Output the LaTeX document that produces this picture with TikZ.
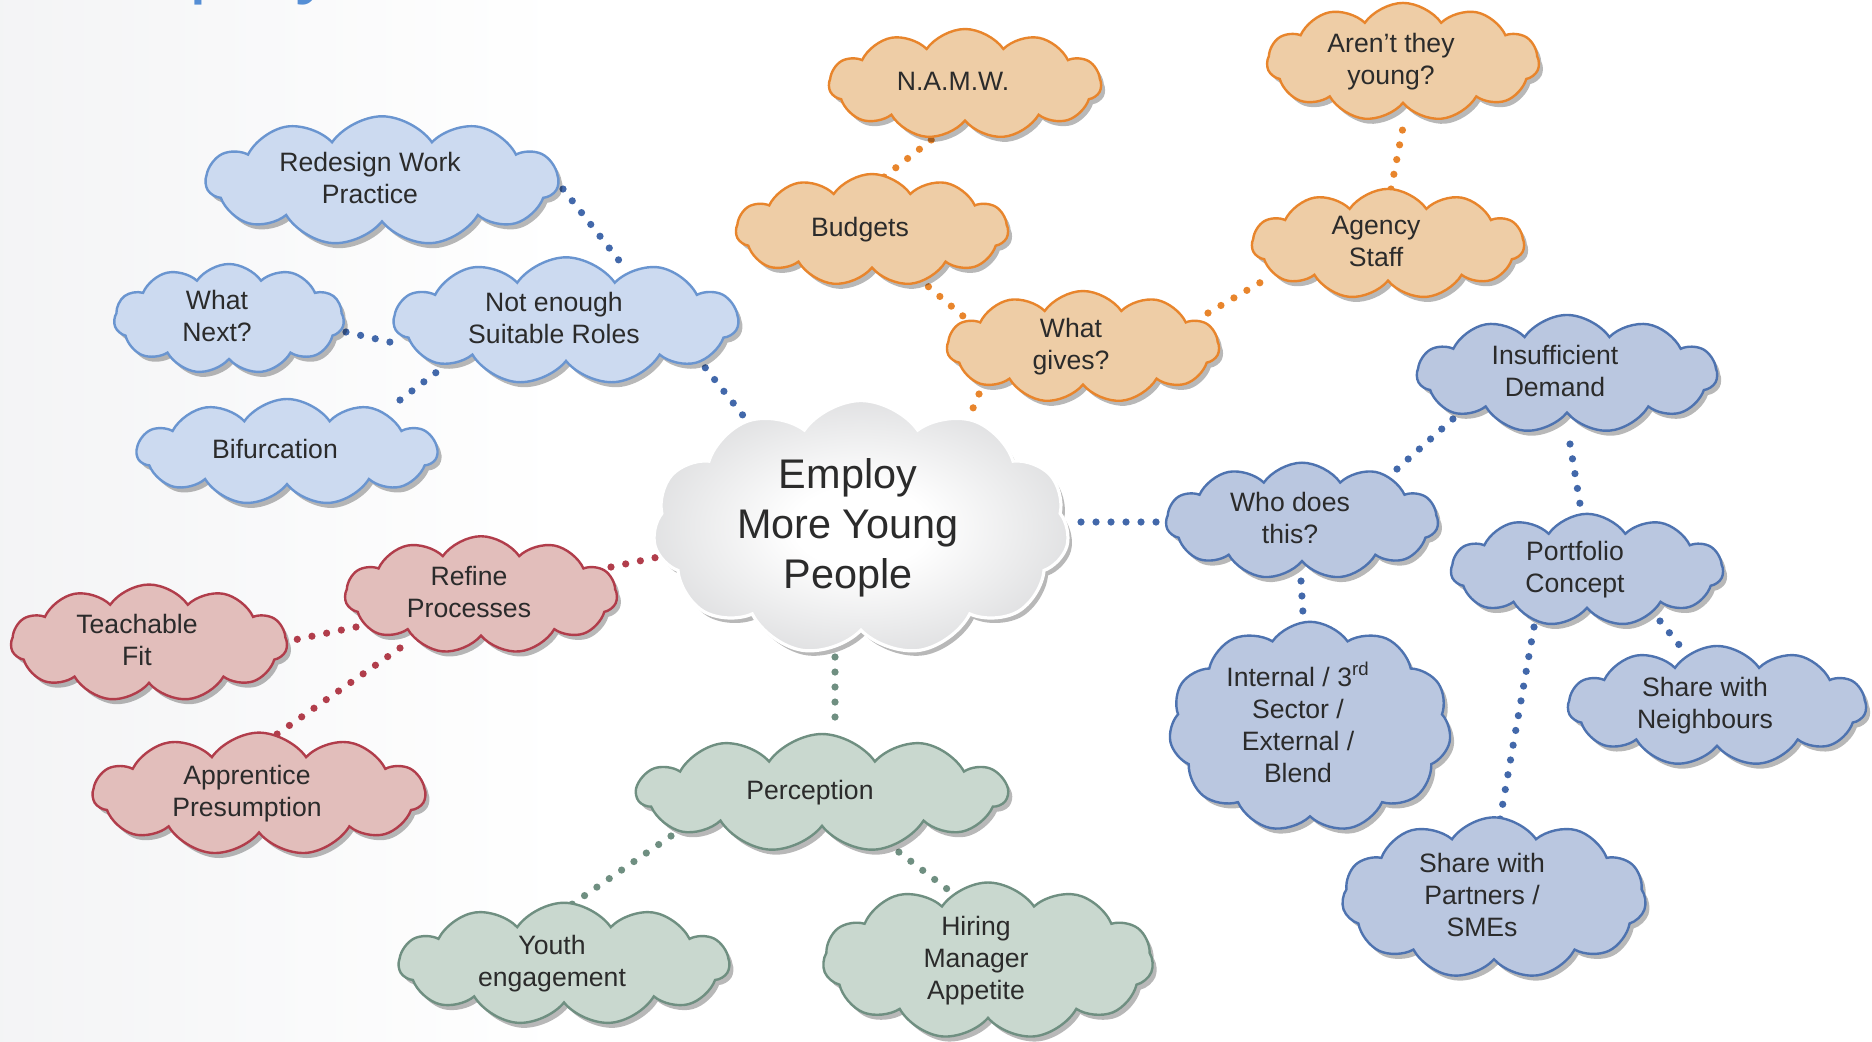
\documentclass[tikz,border=0pt]{standalone}
\usepackage{fontspec}
\setmainfont{Liberation Sans}
\usetikzlibrary{shapes.symbols,shadows}
\definecolor{txt}{HTML}{2B2B2B}
\definecolor{bluefA}{HTML}{CCDAF0}
\definecolor{bluedA}{HTML}{6A95D0}
\definecolor{bluefB}{HTML}{BAC7E0}
\definecolor{bluedB}{HTML}{4E73B0}
\definecolor{orf}{HTML}{EECDA6}
\definecolor{ord}{HTML}{E8852C}
\definecolor{redf}{HTML}{E2BEBB}
\definecolor{redd}{HTML}{B13D4B}
\definecolor{grf}{HTML}{C9D8CF}
\definecolor{grd}{HTML}{6F8F81}
\definecolor{dotblue}{HTML}{4268AA}
\definecolor{titleblue}{HTML}{558ED5}
\definecolor{bgl}{HTML}{E2E3E7}
\definecolor{cgrey}{HTML}{BDBEC1}
\pgfdeclarehorizontalshading{bgsh}{100bp}{color(0bp)=(bgl); color(8bp)=(bgl!85); color(40bp)=(white); color(100bp)=(white)}
\pgfdeclareradialshading{csh}{\pgfpoint{0bp}{0bp}}{color(0bp)=(white); color(8bp)=(white); color(46bp)=(cgrey); color(50bp)=(cgrey)}
\pgfdeclarelayer{bg}
\pgfdeclarelayer{lines}
\pgfsetlayers{bg,lines,main}
\newcommand{\ctext}[1]{\begin{tabular}{@{}c@{}}#1\end{tabular}\hspace*{12pt}}
\newcommand{\mtext}[1]{\begin{tabular}{@{}c@{}}#1\end{tabular}\hspace*{13pt}}
\begin{document}
\begin{tikzpicture}[x=0.5pt,y=-0.5pt,
  cl/.style={cloud, cloud puffs=11, cloud puff arc=110, cloud ignores aspect,
    draw, line width=1.2pt, text=txt, inner sep=0pt,
    font=\fontsize{13.3}{16}\selectfont,
    drop shadow={shadow xshift=2pt, shadow yshift=-2.5pt, opacity=0.28, fill=black}},
  cA/.style={cl, fill=bluefA, draw=bluedA},
  cB/.style={cl, fill=bluefB, draw=bluedB},
  cO/.style={cl, fill=orf, draw=ord},
  cR/.style={cl, fill=redf, draw=redd},
  cG/.style={cl, fill=grf, draw=grd},
  cM/.style={cl, draw=white, line width=1.6pt, shading=csh,
    font=\fontsize{20.7}{25}\selectfont},
  dots/.style={line width=3.6pt, line cap=round, dash pattern=on 0pt off 7.5pt},
  dB/.style={dots, draw=dotblue},
  dO/.style={dots, draw=ord},
  dR/.style={dots, draw=redd},
  dG/.style={dots, draw=grd}
]
\useasboundingbox (0,0) rectangle (1872,1041);
\begin{pgfonlayer}{bg}
\shade[shading=bgsh] (0,0) rectangle (1872,1041);
\end{pgfonlayer}

\node[anchor=base west, text=titleblue, font=\fontsize{40}{40}\selectfont] (title) at (62,-12) {Employ};

% left blue group
\node[cA, minimum width=176pt, minimum height=55pt] (redesign) at (382,181) {\ctext{Redesign Work\\Practice}};
\node[cA, minimum width=115pt, minimum height=55pt] (whatnext) at (229,319) {\ctext{What\\Next?}};
\node[cA, minimum width=172pt, minimum height=56pt] (notenough) at (566,321) {\ctext{Not enough\\Suitable Roles}};
\node[cA, minimum width=150pt, minimum height=53pt] (bifurc) at (287,452) {\ctext{Bifurcation}};

% centre
\node[cM, minimum width=208pt, minimum height=102pt] (employ) at (861,528) {\mtext{Employ\\More Young\\People}};

% orange group
\node[cO, minimum width=136pt, minimum height=55pt] (namw) at (965,84) {\ctext{N.A.M.W.}};
\node[cO, minimum width=136pt, minimum height=55pt] (arent) at (1403,62) {\ctext{Aren’t they\\young?}};
\node[cO, minimum width=136pt, minimum height=56pt] (budgets) at (872,230) {\ctext{Budgets}};
\node[cO, minimum width=136pt, minimum height=55pt] (agency) at (1388,244) {\ctext{Agency\\Staff}};
\node[cO, minimum width=136pt, minimum height=56pt] (whatgives) at (1083,347) {\ctext{What\\gives?}};

% right blue group
\node[cB, minimum width=150pt, minimum height=54pt] (insuff) at (1567,374) {\ctext{Insufficient\\Demand}};
\node[cB, minimum width=136pt, minimum height=56pt] (whodoes) at (1302,521) {\ctext{Who does\\this?}};
\node[cB, minimum width=136pt, minimum height=55pt] (portfolio) at (1587,570) {\ctext{Portfolio\\Concept}};
\node[cB, minimum width=141pt, minimum height=95pt] (internal) at (1310,727) {\ctext{Internal / 3\textsuperscript{rd}\\Sector /\\External /\\Blend}};
\node[cB, minimum width=149pt, minimum height=56pt] (neighbours) at (1717,706) {\ctext{Share with\\Neighbours}};
\node[cB, minimum width=152pt, minimum height=67pt] (partners) at (1494,898) {\ctext{Share with\\Partners /\\SMEs}};

% red group
\node[cR, minimum width=136pt, minimum height=56pt] (refine) at (481,595) {\ctext{Refine\\Processes}};
\node[cR, minimum width=138pt, minimum height=56pt] (teachable) at (149,643) {\ctext{Teachable\\Fit}};
\node[cR, minimum width=166pt, minimum height=55pt] (apprentice) at (259,794) {\ctext{Apprentice\\Presumption}};

% green group
\node[cG, minimum width=185pt, minimum height=59pt] (perception) at (822,793) {\ctext{Perception}};
\node[cG, minimum width=165pt, minimum height=61pt] (youth) at (564,964) {\ctext{Youth\\engagement}};
\node[cG, minimum width=165pt, minimum height=70pt] (hiring) at (988,961) {\ctext{Hiring\\Manager\\Appetite}};

\begin{pgfonlayer}{lines}
\draw[dB] ([shift={(181,8)}]redesign.center) -- ([shift={(55,-58)}]notenough.center);
\draw[dB] ([shift={(117,13)}]whatnext.center) -- ([shift={(-172,22)}]notenough.center);
\draw[dB] ([shift={(113,-52)}]bifurc.center) -- ([shift={(-124,47)}]notenough.center);
\draw[dB] ([shift={(130,35)}]notenough.center) -- ([shift={(-97,-86)}]employ.center);

\draw[dO] ([shift={(12,-53)}]budgets.center) -- ([shift={(-30,53)}]namw.center);
\draw[dO] ([shift={(45,47)}]budgets.center) -- ([shift={(-113,-25)}]whatgives.center);
\draw[dO] ([shift={(-104,47)}]whatgives.center) -- ([shift={(104,-101)}]employ.center);
\draw[dO] ([shift={(125,-34)}]whatgives.center) -- ([shift={(-120,34)}]agency.center);
\draw[dO] ([shift={(3,-55)}]agency.center) -- ([shift={(1,60)}]arent.center);

\draw[dB] ([shift={(220,-6)}]employ.center) -- ([shift={(-138,1)}]whodoes.center);
\draw[dB] ([shift={(95,-52)}]whodoes.center) -- ([shift={(-113,44)}]insuff.center);
\draw[dB] ([shift={(3,70)}]insuff.center) -- ([shift={(-5,-54)}]portfolio.center);
\draw[dB] ([shift={(-1,60)}]whodoes.center) -- ([shift={(-6,-97)}]internal.center);
\draw[dB] ([shift={(73,51)}]portfolio.center) -- ([shift={(-33,-55)}]neighbours.center);
\draw[dB] ([shift={(-53,57)}]portfolio.center) -- ([shift={(2,-56)}]partners.center);

\draw[dR] ([shift={(130,-28)}]refine.center) -- ([shift={(-198,28)}]employ.center);
\draw[dR] ([shift={(-125,32)}]refine.center) -- ([shift={(140,-2)}]teachable.center);
\draw[dR] ([shift={(-81,53)}]refine.center) -- ([shift={(1,-48)}]apprentice.center);

\draw[dG] ([shift={(-26,114)}]employ.center) -- ([shift={(13,-62)}]perception.center);
\draw[dG] ([shift={(-151,43)}]perception.center) -- ([shift={(4,-57)}]youth.center);
\draw[dG] ([shift={(65,50)}]perception.center) -- ([shift={(-33,-66)}]hiring.center);
\end{pgfonlayer}
\end{tikzpicture}
\end{document}
